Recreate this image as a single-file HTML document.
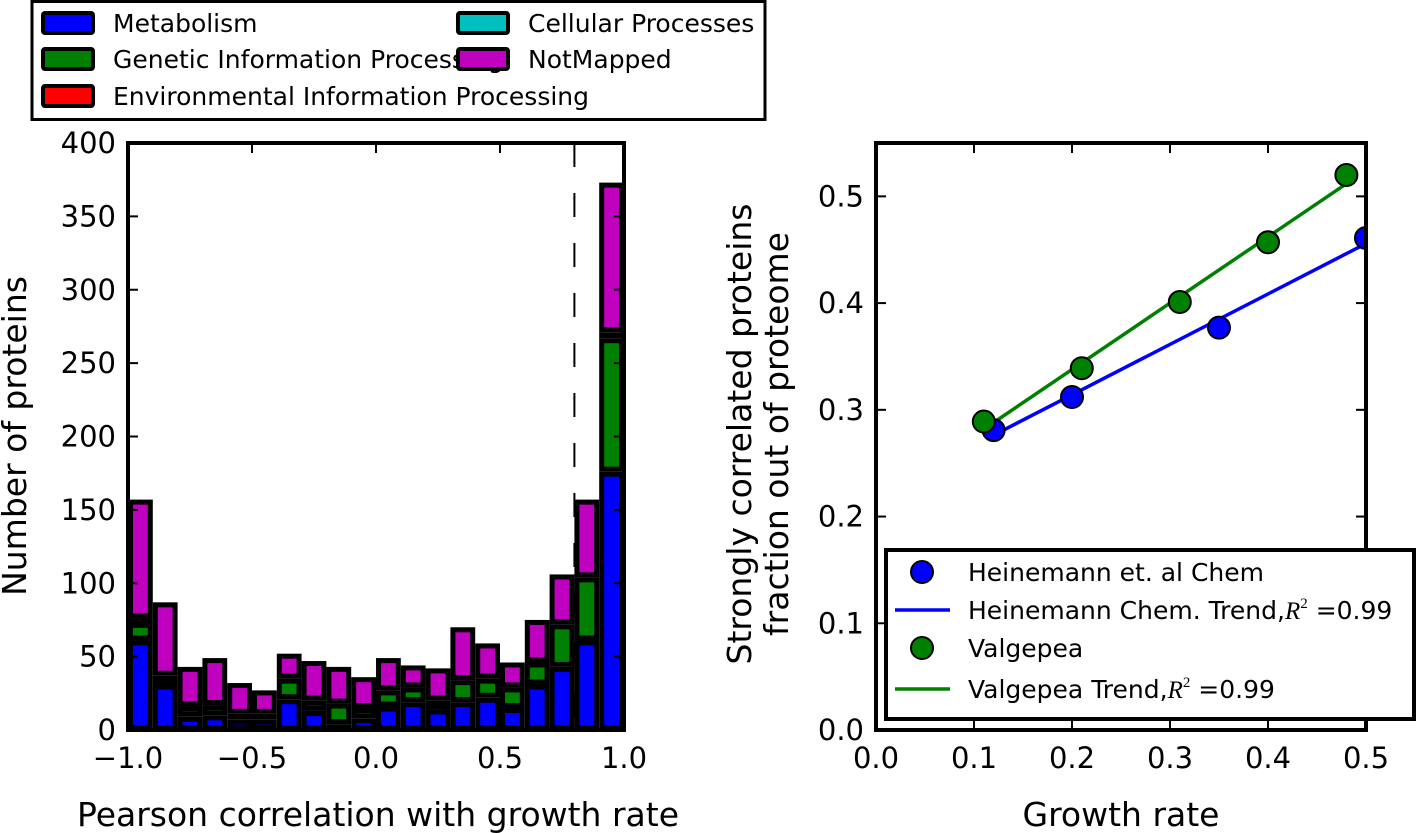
<!DOCTYPE html>
<html><head><meta charset="utf-8"><style>
html,body{margin:0;padding:0;background:#fff;}
svg{display:block;font-family:"DejaVu Sans","Liberation Sans",sans-serif;}
</style></head><body>
<svg id="fig" width="1417" height="833" viewBox="0 0 1417 833">
<g id="hist"></g>
<g id="scat"></g>
</svg>
<script>
// ---- Histogram data ----
const binStarts = [-1.0,-0.9,-0.8,-0.7,-0.6,-0.5,-0.4,-0.3,-0.2,-0.1,0.0,0.1,0.2,0.3,0.4,0.5,0.6,0.7,0.8,0.9];
const metabolism = [61,31,9,10,7,7,21,13,4,8,16,19,14,19,22,15,31,43,61,176];
const genetic = [12,6,7,7,4,4,14,7,14,7,11,10,6,15,13,14,15,29,43,91];
const environmental = [3,0,0,0,0,0,0,0,0,0,0,0,0,0,0,0,0,0,0,4];
const cellular = [0,0,0,0,0,0,0,0,0,0,0,0,0,0,0,0,0,0,0,0];
const notMapped = [81,50,27,32,21,16,17,27,25,21,22,15,22,36,24,17,29,34,53,102];
const histYTicks = [0,50,100,150,200,250,300,350,400];
const histXTicks = [-1.0,-0.5,0.0,0.5,1.0];
const thresholdValue = 0.8;

// ---- Scatter data ----
const heinX = [0.12,0.20,0.35,0.50];
const heinY = [0.281,0.312,0.377,0.461];
const valgX = [0.11,0.21,0.31,0.40,0.48];
const valgY = [0.289,0.339,0.401,0.457,0.520];
const scatXTicks = [0.0,0.1,0.2,0.3,0.4,0.5];
const scatYTicks = [0.0,0.1,0.2,0.3,0.4,0.5];

const NS="http://www.w3.org/2000/svg";
function mk(parent,tag,attrs,text){const e=document.createElementNS(NS,tag);for(const k in attrs)e.setAttribute(k,attrs[k]);if(text!==undefined)e.textContent=text;parent.appendChild(e);return e;}
function fmt(v){return (v<0?"\u2212":"")+Math.abs(v).toFixed(1);}

// ===== Histogram =====
const H=document.getElementById('hist');
const hx0=128,hx1=624,hy0=730,hy1=143;
const hx=v=>hx0+(v+1)/2*(hx1-hx0);
const hy=v=>hy0-v/400*(hy0-hy1);
const colors=['#0000ff','#008000','#ff0000','#00bfbf','#bf00bf'];
const series=[metabolism,genetic,environmental,cellular,notMapped];
const sNames=['metabolism','genetic','environmental','cellular','notmapped'];
for(let i=0;i<binStarts.length;i++){
  let base=0;
  for(let s=0;s<series.length;s++){
    const v=series[s][i]; if(v<=0) continue;
    const r=mk(H,'rect',{x:hx(binStarts[i])+2.5,y:hy(base+v)+2.5,width:hx(binStarts[i]+0.1)-hx(binStarts[i])-5,height:Math.max(hy(base)-hy(base+v)-5,0.5),fill:colors[s],stroke:'#000','stroke-width':5});
    
    
    base+=v;
  }
}
{const l=mk(H,'line',{x1:hx(thresholdValue),x2:hx(thresholdValue),y1:hy1,y2:hy0,stroke:'#000','stroke-width':2,'stroke-dasharray':'24,26'});
}
{const f=mk(H,'rect',{x:hx0,y:hy1,width:hx1-hx0,height:hy0-hy1,fill:'none',stroke:'#000','stroke-width':4});
}
histYTicks.forEach(t=>{
  mk(H,'line',{x1:hx0,x2:hx0+10,y1:hy(t),y2:hy(t),stroke:'#000','stroke-width':2});
  mk(H,'line',{x1:hx1-10,x2:hx1,y1:hy(t),y2:hy(t),stroke:'#000','stroke-width':2});
  const tx=mk(H,'text',{x:hx0-12,y:hy(t)+10,'text-anchor':'end','font-size':29},String(t));
  
});
histXTicks.forEach(t=>{
  mk(H,'line',{x1:hx(t),x2:hx(t),y1:hy0,y2:hy0-10,stroke:'#000','stroke-width':2});
  mk(H,'line',{x1:hx(t),x2:hx(t),y1:hy1,y2:hy1+10,stroke:'#000','stroke-width':2});
  const tx=mk(H,'text',{x:hx(t),y:768,'text-anchor':'middle','font-size':29},fmt(t));
  
});
{const t=mk(H,'text',{x:378,y:826,'text-anchor':'middle','font-size':33},'Pearson correlation with growth rate');

const t2=mk(H,'text',{x:0,y:0,'text-anchor':'middle','font-size':33,transform:'translate(26,436) rotate(-90)'},'Number of proteins');
}
{const L=mk(H,'g',{});
mk(L,'rect',{x:32,y:1.5,width:733,height:118,fill:'#fff',stroke:'#000','stroke-width':3});
const items=[['Metabolism',0,42,23],['Genetic Information Processing',1,42,59],['Environmental Information Processing',2,42,96],['Cellular Processes',3,457,23],['NotMapped',4,457,59]];
items.forEach(it=>{
  const g=mk(L,'g',{});
  mk(g,'text',{x:it[2]+71,y:it[3]+9,'font-size':25},it[0]);
  mk(g,'rect',{x:it[2]+1,y:it[3]-10,width:50,height:20,fill:colors[it[1]],stroke:'#000','stroke-width':4,rx:2});
});}

// ===== Scatter =====
const S=document.getElementById('scat');
const sx0=876,sx1=1366,sy0=730,sy1=143;
const sx=v=>sx0+v/0.5*(sx1-sx0);
const sy=v=>sy0-v/0.55*(sy0-sy1);
function fit(xs,ys){const n=xs.length;const mx=xs.reduce((a,b)=>a+b)/n,my=ys.reduce((a,b)=>a+b)/n;let num=0,den=0;for(let i=0;i<n;i++){num+=(xs[i]-mx)*(ys[i]-my);den+=(xs[i]-mx)**2;}const b=num/den;return [b,my-b*mx];}
scatYTicks.forEach(t=>{
  mk(S,'line',{x1:sx0,x2:sx0+10,y1:sy(t),y2:sy(t),stroke:'#000','stroke-width':2});
  mk(S,'line',{x1:sx1-10,x2:sx1,y1:sy(t),y2:sy(t),stroke:'#000','stroke-width':2});
  const tx=mk(S,'text',{x:sx0-12,y:sy(t)+10,'text-anchor':'end','font-size':29},t.toFixed(1));
  
});
scatXTicks.forEach(t=>{
  mk(S,'line',{x1:sx(t),x2:sx(t),y1:sy0,y2:sy0-10,stroke:'#000','stroke-width':2});
  mk(S,'line',{x1:sx(t),x2:sx(t),y1:sy1,y2:sy1+10,stroke:'#000','stroke-width':2});
  const tx=mk(S,'text',{x:sx(t),y:768,'text-anchor':'middle','font-size':29},t.toFixed(1));
  
});
function trend(xs,ys,col,name){const [b,a]=fit(xs,ys);const x0=Math.min(...xs),x1=Math.max(...xs);
  const l=mk(S,'line',{x1:sx(x0),y1:sy(a+b*x0),x2:sx(x1),y2:sy(a+b*x1),stroke:col,'stroke-width':3.5});
  }
function pts(xs,ys,col,name){xs.forEach((x,i)=>{const c=mk(S,'circle',{cx:sx(x),cy:sy(ys[i]),r:11,fill:col,stroke:'#000','stroke-width':2});
  });}
trend(heinX,heinY,'#0000ff','heinemann-trend-line');
trend(valgX,valgY,'#008000','valgepea-trend-line');
pts(heinX,heinY,'#0000ff','heinemann-point');
pts(valgX,valgY,'#008000','valgepea-point');
mk(S,'rect',{x:sx1+2,y:130,width:60,height:415,fill:'#fff'});
{const f=mk(S,'rect',{x:sx0,y:sy1,width:sx1-sx0,height:sy0-sy1,fill:'none',stroke:'#000','stroke-width':4});
}
{const t=mk(S,'text',{x:1121,y:826,'text-anchor':'middle','font-size':33},'Growth rate');

const t2=mk(S,'text',{x:0,y:0,'text-anchor':'middle','font-size':33,transform:'translate(751,434) rotate(-90)'},'Strongly correlated proteins');

const t3=mk(S,'text',{x:0,y:0,'text-anchor':'middle','font-size':33,transform:'translate(788,434) rotate(-90)'},'fraction out of proteome');
}
{const L=mk(S,'g',{});
mk(L,'rect',{x:886,y:550,width:528,height:169,fill:'#fff',stroke:'#000','stroke-width':4});
const rows=[['Heinemann et. al Chem','pt','#0000ff',572],['Heinemann Chem. Trend,','ln','#0000ff',610],['Valgepea','pt','#008000',648],['Valgepea Trend,','ln','#008000',689]];
rows.forEach(r=>{const g=mk(L,'g',{});
  if(r[1]==='pt') mk(g,'circle',{cx:922,cy:r[3],r:11,fill:r[2],stroke:'#000','stroke-width':2});
  else mk(g,'line',{x1:895,x2:950,y1:r[3],y2:r[3],stroke:r[2],'stroke-width':3.5});
  const t=mk(g,'text',{x:968,y:r[3]+9,'font-size':25},r[0]);
  if(r[1]==='ln'){mk(t,'tspan',{'font-family':'"Liberation Serif",serif','font-style':'italic'},'R');
    mk(t,'tspan',{'font-size':15,dy:-11,'font-family':'"Liberation Serif",serif'},'2');
    mk(t,'tspan',{dy:11},' =0.99');}
});}
</script>
</body></html>
